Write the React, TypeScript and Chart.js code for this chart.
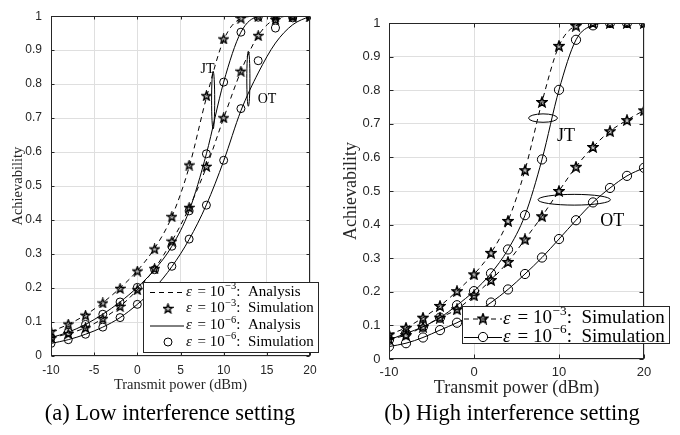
import React, { useEffect, useRef } from "react";
import { Chart, registerables } from "chart.js";

Chart.register(...registerables);

// ---------- data ----------
const powerDbm = [-10, -8, -6, -4, -2, 0, 2, 4, 6, 8, 10, 12, 14, 16, 18, 20];

// (a) Low interference setting
const lowJtE3Analysis = [0.072, 0.093, 0.121, 0.157, 0.2, 0.251, 0.317, 0.41, 0.556, 0.76, 0.93, 0.993, 1, 1, 1, 1];
const lowOtE3Analysis = [0.053, 0.066, 0.083, 0.11, 0.146, 0.195, 0.257, 0.338, 0.436, 0.556, 0.7, 0.838, 0.943, 0.992, 1, 1];
const lowJtE6Analysis = [0.054, 0.07, 0.093, 0.123, 0.159, 0.202, 0.254, 0.323, 0.427, 0.595, 0.806, 0.953, 0.998, 1, 1, 1];
const lowOtE6Analysis = [0.037, 0.048, 0.064, 0.085, 0.113, 0.152, 0.2, 0.263, 0.343, 0.445, 0.574, 0.722, 0.833, 0.921, 0.975, 1];

const lowJtE3Sim = [0.072, 0.094, 0.12, 0.156, 0.199, 0.25, 0.315, 0.41, 0.562, 0.766, 0.933, 0.994, 1, 1, 1, 1];
const lowOtE3Sim = [0.053, 0.066, 0.083, 0.11, 0.146, 0.195, 0.257, 0.338, 0.437, 0.558, 0.701, 0.838, 0.943, 0.99, 1, 1];
const lowJtE6Sim = [0.054, 0.07, 0.093, 0.123, 0.159, 0.202, 0.254, 0.323, 0.427, 0.595, 0.806, 0.953, 0.997, 1, 1, 1];
const lowOtE6Sim = [0.037, 0.048, 0.064, 0.085, 0.113, 0.152, 0.2, 0.264, 0.344, 0.444, 0.576, 0.728, 0.869, 0.965, 0.995, 1];

// (b) High interference setting
const highJtE3Sim = [0.073, 0.093, 0.123, 0.158, 0.202, 0.252, 0.316, 0.411, 0.562, 0.765, 0.932, 0.992, 1, 1, 1, 1];
const highOtE3Sim = [0.059, 0.071, 0.096, 0.123, 0.148, 0.189, 0.235, 0.289, 0.356, 0.425, 0.5, 0.572, 0.631, 0.678, 0.711, 0.74];
const highJtE6Sim = [0.057, 0.076, 0.096, 0.123, 0.16, 0.202, 0.255, 0.326, 0.428, 0.594, 0.801, 0.95, 0.993, 1, 1, 1];
const highOtE6Sim = [0.037, 0.047, 0.064, 0.086, 0.108, 0.135, 0.168, 0.207, 0.253, 0.302, 0.357, 0.413, 0.466, 0.509, 0.545, 0.569];

// ticks
const lowXTicks = [-10, -5, 0, 5, 10, 15, 20];
const highXTicks = [-10, 0, 10, 20];
const yTicks = [0, 0.1, 0.2, 0.3, 0.4, 0.5, 0.6, 0.7, 0.8, 0.9, 1];
const yTickLabels = ["0", "0.1", "0.2", "0.3", "0.4", "0.5", "0.6", "0.7", "0.8", "0.9", "1"];

// legend texts
const lowLegendExp = ["\u22123", "\u22123", "\u22126", "\u22126"];
const lowLegendKind = ["Analysis", "Simulation", "Analysis", "Simulation"];
const highLegendExp = ["\u22123", "\u22126"];
const highLegendKind = ["Simulation", "Simulation"];

// annotations (data coordinates)
const lowNoteText = ["JT", "OT"];
const lowNoteX = [8.14, 15.03];
const lowNoteY = [0.845, 0.756];
const lowRingX = [8.78, 12.86];
const lowRingY = [0.753, 0.816];
const lowRingRx = [0.18, 0.18];
const lowRingRy = [0.085, 0.081];

const highNoteText = ["JT", "OT"];
const highNoteX = [10.82, 16.26];
const highNoteY = [0.663, 0.41];
const highRingX = [8.12, 11.79];
const highRingY = [0.717, 0.474];
const highRingRx = [1.7, 4.26];
const highRingRy = [0.0125, 0.016];

const xTitle = "Transmit power (dBm)";
const yTitle = "Achievability";
const captions = ["(a) Low interference setting", "(b) High interference setting"];

// ---------- styles ----------
const SERIF = "'Liberation Serif', 'Times New Roman', serif";
const SANS = "'Liberation Sans', Arial, Helvetica, sans-serif";
const INK = "#262626";
const GRID = "#dfdfdf";
const DASH = [5, 4];

function makeStar(size: number, lw: number): HTMLCanvasElement {
  const c = document.createElement("canvas");
  c.width = size;
  c.height = size;
  const ctx = c.getContext("2d")!;
  const cx = size / 2;
  const cy = size / 2 + 0.4;
  const R = size / 2 - lw * 0.6;
  const r = R * 0.42;
  ctx.beginPath();
  for (let i = 0; i < 10; i++) {
    const ang = -Math.PI / 2 + (i * Math.PI) / 5;
    const rad = i % 2 === 0 ? R : r;
    const px = cx + rad * Math.cos(ang);
    const py = cy + rad * Math.sin(ang);
    if (i === 0) ctx.moveTo(px, py);
    else ctx.lineTo(px, py);
  }
  ctx.closePath();
  ctx.fillStyle = "rgba(0,0,0,0.25)";
  ctx.fill();
  ctx.lineWidth = lw;
  ctx.strokeStyle = "#000";
  ctx.lineJoin = "miter";
  ctx.stroke();
  return c;
}

type Mark = "star" | "circle" | "none";

interface LegendRow {
  dashed: boolean;
  line: boolean;
  mark: Mark;
  exp: string;
  kind: string;
}

interface PanelSpec {
  left: number;
  xTicks: number[];
  pad: { top: number; right: number };
  yAxisWidth: number;
  xAxisHeight: number;
  tickSize: number;
  tickPadX: number;
  tickPadY: number;
  titleSize: number;
  xTitlePadBottom: number;
  yTitlePadTop: number;
  datasets: any[];
  legendBox: { x: number; y: number; w: number; h: number };
  legendRows: LegendRow[];
  legendRowY: number[];
  legendLine: [number, number];
  legendMarkX: number;
  legendTextX: number;
  legendFont: number;
  star: HTMLCanvasElement;
  circleR: number;
  notes: { text: string[]; x: number[]; y: number[]; size: number };
  rings: { x: number[]; y: number[]; rx: number[]; ry: number[] };
  tickLen: number;
}

function pts(ys: number[]) {
  return powerDbm.map((x, i) => ({ x, y: ys[i] }));
}

function drawMark(ctx: CanvasRenderingContext2D, mark: Mark, x: number, y: number, star: HTMLCanvasElement, r: number) {
  if (mark === "star") {
    ctx.drawImage(star, x - star.width / 2, y - star.height / 2);
  } else if (mark === "circle") {
    ctx.beginPath();
    ctx.setLineDash([]);
    ctx.arc(x, y, r, 0, Math.PI * 2);
    ctx.lineWidth = 1;
    ctx.strokeStyle = "#000";
    ctx.stroke();
  }
}

function makePlugins(spec: PanelSpec) {
  const frame = {
    id: "frameTicks",
    afterDatasetsDraw(chart: any) {
      const { ctx, chartArea: a, scales } = chart;
      ctx.save();
      ctx.strokeStyle = INK;
      ctx.lineWidth = 1;
      ctx.setLineDash([]);
      const L = Math.round(a.left) + 0.5;
      const R = Math.round(a.right) - 0.5;
      const T = Math.round(a.top) + 0.5;
      const B = Math.round(a.bottom) - 0.5;
      ctx.strokeRect(L, T, R - L, B - T);
      ctx.beginPath();
      for (const v of spec.xTicks) {
        const px = Math.round(scales.x.getPixelForValue(v)) + 0.5;
        ctx.moveTo(px, B);
        ctx.lineTo(px, B - spec.tickLen);
        ctx.moveTo(px, T);
        ctx.lineTo(px, T + spec.tickLen);
      }
      for (const v of yTicks) {
        const py = Math.round(scales.y.getPixelForValue(v)) + 0.5;
        ctx.moveTo(L, py);
        ctx.lineTo(L + spec.tickLen, py);
        ctx.moveTo(R, py);
        ctx.lineTo(R - spec.tickLen, py);
      }
      ctx.stroke();
      // annotations: rings + labels
      const xs = scales.x;
      const ys = scales.y;
      ctx.lineWidth = 1;
      ctx.strokeStyle = "#000";
      for (let i = 0; i < spec.rings.x.length; i++) {
        const cx = xs.getPixelForValue(spec.rings.x[i]);
        const cy = ys.getPixelForValue(spec.rings.y[i]);
        const rx = Math.abs(xs.getPixelForValue(spec.rings.x[i] + spec.rings.rx[i]) - cx);
        const ry = Math.abs(ys.getPixelForValue(spec.rings.y[i] + spec.rings.ry[i]) - cy);
        ctx.beginPath();
        ctx.ellipse(cx, cy, rx, ry, 0, 0, Math.PI * 2);
        ctx.stroke();
      }
      ctx.fillStyle = "#000";
      ctx.font = `${spec.notes.size}px ${SERIF}`;
      ctx.textAlign = "center";
      ctx.textBaseline = "middle";
      for (let i = 0; i < spec.notes.text.length; i++) {
        ctx.fillText(spec.notes.text[i], xs.getPixelForValue(spec.notes.x[i]), ys.getPixelForValue(spec.notes.y[i]));
      }
      ctx.restore();
    },
  };

  const legend = {
    id: "boxLegend",
    afterDraw(chart: any) {
      const { ctx } = chart;
      const b = spec.legendBox;
      ctx.save();
      ctx.setLineDash([]);
      ctx.fillStyle = "#fff";
      ctx.fillRect(b.x, b.y, b.w, b.h);
      ctx.strokeStyle = INK;
      ctx.lineWidth = 1;
      ctx.strokeRect(b.x + 0.5, b.y + 0.5, b.w - 1, b.h - 1);
      const f = spec.legendFont;
      spec.legendRows.forEach((row, i) => {
        const y = spec.legendRowY[i];
        if (row.line) {
          ctx.beginPath();
          ctx.setLineDash(row.dashed ? DASH : []);
          ctx.strokeStyle = "#000";
          ctx.lineWidth = 1;
          ctx.moveTo(spec.legendLine[0], y + 0.5);
          ctx.lineTo(spec.legendLine[1], y + 0.5);
          ctx.stroke();
          ctx.setLineDash([]);
        }
        if (row.mark !== "none") {
          if (row.mark === "circle" && row.line) {
            ctx.fillStyle = "#fff";
            ctx.beginPath();
            ctx.arc(spec.legendMarkX, y, spec.circleR, 0, Math.PI * 2);
            ctx.fill();
          }
          drawMark(ctx, row.mark, spec.legendMarkX, y, spec.star, spec.circleR);
        }
        ctx.fillStyle = "#000";
        ctx.textBaseline = "middle";
        ctx.textAlign = "left";
        let x = spec.legendTextX;
        ctx.font = `italic ${f}px ${SERIF}`;
        ctx.fillText("\u03B5", x, y);
        x += ctx.measureText("\u03B5").width + f * 0.12;
        ctx.font = `${f}px ${SERIF}`;
        const mid = " = 10";
        ctx.fillText(mid, x, y);
        x += ctx.measureText(mid).width;
        ctx.font = `${f * 0.7}px ${SERIF}`;
        ctx.fillText(row.exp, x + 0.5, y - f * 0.38);
        x += ctx.measureText(row.exp).width + 0.5;
        ctx.font = `${f}px ${SERIF}`;
        ctx.fillText(":  " + row.kind, x, y);
      });
      ctx.restore();
    },
  };
  return [frame, legend];
}

function buildConfig(spec: PanelSpec): any {
  return {
    type: "line",
    data: { datasets: spec.datasets },
    options: {
      responsive: false,
      animation: false,
      events: [],
      layout: { padding: { top: spec.pad.top, right: spec.pad.right, bottom: 0, left: 0 } },
      plugins: { legend: { display: false }, tooltip: { enabled: false } },
      scales: {
        x: {
          type: "linear",
          min: -10,
          max: 20,
          afterBuildTicks: (s: any) => {
            s.ticks = spec.xTicks.map((v) => ({ value: v }));
          },
          afterFit: (s: any) => {
            s.height = spec.xAxisHeight;
          },
          grid: { color: GRID, lineWidth: 1, drawTicks: false },
          border: { display: false },
          ticks: {
            font: { family: SANS, size: spec.tickSize },
            color: INK,
            padding: spec.tickPadX,
            maxRotation: 0,
            autoSkip: false,
            callback: (v: number) => String(v),
          },
          title: {
            display: true,
            text: xTitle,
            color: INK,
            font: { family: SERIF, size: spec.titleSize },
            padding: { top: 0, bottom: spec.xTitlePadBottom },
          },
        },
        y: {
          type: "linear",
          min: 0,
          max: 1,
          afterBuildTicks: (s: any) => {
            s.ticks = yTicks.map((v) => ({ value: v }));
          },
          afterFit: (s: any) => {
            s.width = spec.yAxisWidth;
          },
          grid: { color: GRID, lineWidth: 1, drawTicks: false },
          border: { display: false },
          ticks: {
            font: { family: SANS, size: spec.tickSize },
            color: INK,
            padding: spec.tickPadY,
            autoSkip: false,
            callback: (_v: number, i: number) => yTickLabels[i],
          },
          title: {
            display: true,
            text: yTitle,
            color: INK,
            font: { family: SERIF, size: spec.titleSize },
            padding: { top: spec.yTitlePadTop, bottom: 0 },
          },
        },
      },
    },
    plugins: makePlugins(spec),
  };
}

function lineSet(ys: number[], dashed: boolean) {
  return {
    data: pts(ys),
    borderColor: "#000",
    borderWidth: 1,
    borderDash: dashed ? DASH : [],
    pointRadius: 0,
    fill: false,
    cubicInterpolationMode: "monotone",
    tension: 0,
  };
}

function markSet(ys: number[], mark: Mark, star: HTMLCanvasElement, r: number) {
  return {
    data: pts(ys),
    showLine: false,
    borderColor: "#000",
    backgroundColor: "rgba(0,0,0,0)",
    pointStyle: mark === "star" ? star : "circle",
    pointRadius: r,
    pointBorderWidth: 1,
    pointBorderColor: "#000",
    pointBackgroundColor: "rgba(0,0,0,0)",
  };
}

function comboSet(ys: number[], dashed: boolean, mark: Mark, star: HTMLCanvasElement, r: number) {
  return {
    data: pts(ys),
    borderColor: "#000",
    borderWidth: 1,
    borderDash: dashed ? DASH : [],
    fill: false,
    tension: 0,
    cubicInterpolationMode: "monotone",
    pointStyle: mark === "star" ? star : "circle",
    pointRadius: r,
    pointBorderWidth: 1,
    pointBorderColor: "#000",
    pointBackgroundColor: "rgba(0,0,0,0)",
  };
}

function lowSpec(): PanelSpec {
  const star = makeStar(11, 1.4);
  const r = 4;
  return {
    left: 0,
    xTicks: lowXTicks,
    pad: { top: 15, right: 30 },
    yAxisWidth: 51,
    xAxisHeight: 44,
    tickSize: 12,
    tickPadX: 7,
    tickPadY: 9,
    titleSize: 14.5,
    xTitlePadBottom: 6.5,
    yTitlePadTop: 9.5,
    datasets: [
      lineSet(lowJtE3Analysis, true),
      lineSet(lowOtE3Analysis, true),
      lineSet(lowJtE6Analysis, false),
      lineSet(lowOtE6Analysis, false),
      markSet(lowJtE3Sim, "star", star, r),
      markSet(lowOtE3Sim, "star", star, r),
      markSet(lowJtE6Sim, "circle", star, r),
      markSet(lowOtE6Sim, "circle", star, r),
    ],
    legendBox: { x: 143, y: 282, w: 176, h: 71 },
    legendRows: [
      { dashed: true, line: true, mark: "none", exp: lowLegendExp[0], kind: lowLegendKind[0] },
      { dashed: false, line: false, mark: "star", exp: lowLegendExp[1], kind: lowLegendKind[1] },
      { dashed: false, line: true, mark: "none", exp: lowLegendExp[2], kind: lowLegendKind[2] },
      { dashed: false, line: false, mark: "circle", exp: lowLegendExp[3], kind: lowLegendKind[3] },
    ],
    legendRowY: [292, 308.5, 325.5, 342],
    legendLine: [150, 184],
    legendMarkX: 168,
    legendTextX: 186,
    legendFont: 15,
    star,
    circleR: r,
    notes: { text: lowNoteText, x: lowNoteX, y: lowNoteY, size: 14 },
    rings: { x: lowRingX, y: lowRingY, rx: lowRingRx, ry: lowRingRy },
    tickLen: 3,
  };
}

function highSpec(): PanelSpec {
  const star = makeStar(12, 1.5);
  const r = 4.6;
  return {
    left: 340,
    xTicks: highXTicks,
    pad: { top: 23, right: 36 },
    yAxisWidth: 49,
    xAxisHeight: 41,
    tickSize: 13,
    tickPadX: 5.5,
    tickPadY: 8.5,
    titleSize: 18,
    xTitlePadBottom: 1,
    yTitlePadTop: 0,
    datasets: [
      comboSet(highJtE3Sim, true, "star", star, r),
      comboSet(highOtE3Sim, true, "star", star, r),
      comboSet(highJtE6Sim, false, "circle", star, r),
      comboSet(highOtE6Sim, false, "circle", star, r),
    ],
    legendBox: { x: 122, y: 306, w: 208, h: 38 },
    legendRows: [
      { dashed: true, line: true, mark: "star", exp: highLegendExp[0], kind: highLegendKind[0] },
      { dashed: false, line: true, mark: "circle", exp: highLegendExp[1], kind: highLegendKind[1] },
    ],
    legendRowY: [318.5, 337],
    legendLine: [124, 162],
    legendMarkX: 143,
    legendTextX: 163,
    legendFont: 19,
    star,
    circleR: r,
    notes: { text: highNoteText, x: highNoteX, y: highNoteY, size: 18 },
    rings: { x: highRingX, y: highRingY, rx: highRingRx, ry: highRingRy },
    tickLen: 4,
  };
}

function Panel({ which }: { which: "low" | "high" }) {
  const ref = useRef<HTMLCanvasElement>(null);
  useEffect(() => {
    const spec = which === "low" ? lowSpec() : highSpec();
    const chart = new Chart(ref.current!, buildConfig(spec));
    return () => chart.destroy();
  }, [which]);
  return (
    <canvas
      ref={ref}
      width={340}
      height={400}
      style={{ position: "absolute", left: which === "low" ? 0 : 340, top: 0, width: 340, height: 400 }}
    />
  );
}

export default function App() {
  return (
    <div style={{ position: "fixed", left: 0, top: 0, width: 680, height: 435, background: "#fff", overflow: "hidden" }}>
      <Panel which="low" />
      <Panel which="high" />
      {captions.map((c, i) => (
        <div
          key={c}
          style={{
            position: "absolute",
            left: i === 0 ? 0 : 342,
            top: 399,
            width: 340,
            textAlign: "center",
            fontFamily: SERIF,
            fontSize: 22.5,
            lineHeight: "28px",
            color: "#000",
            whiteSpace: "nowrap",
          }}
        >
          {c}
        </div>
      ))}
    </div>
  );
}
